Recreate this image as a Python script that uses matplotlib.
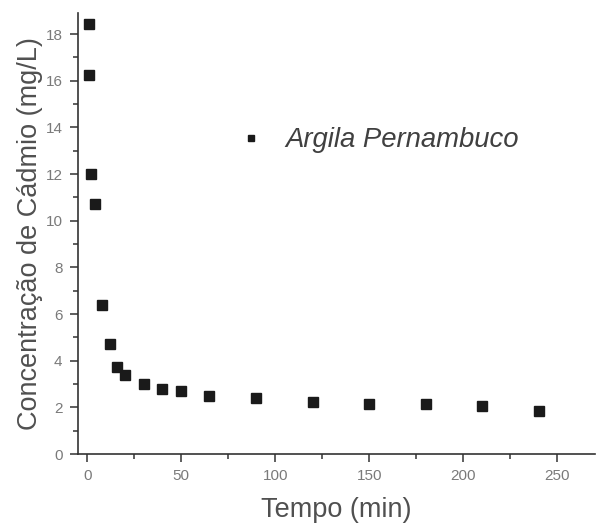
import matplotlib.pyplot as plt
from matplotlib.ticker import MultipleLocator

plt.rcParams['font.family'] = ['Liberation Sans', 'DejaVu Sans']

tempo = [1, 1, 2, 4, 8, 12, 16, 20, 30, 40, 50, 65, 90, 120, 150, 180, 210, 240]
concentracao = [18.45, 16.25, 12.0, 10.7, 6.4, 4.7, 3.75, 3.4, 3.0, 2.8, 2.7, 2.5,
                2.4, 2.25, 2.15, 2.15, 2.05, 1.85]

fig = plt.figure(figsize=(5.98, 5.25), dpi=100)
ax = fig.add_axes([0.130, 0.135, 0.865, 0.840])

ax.plot(tempo, concentracao, 's', color='#1a1a1a', markersize=6.5,
        linestyle='none', label='Argila Pernambuco')

ax.set_xlim(-5, 270)
ax.set_ylim(0, 18.9)
ax.xaxis.set_major_locator(MultipleLocator(50))
ax.xaxis.set_minor_locator(MultipleLocator(25))
ax.yaxis.set_major_locator(MultipleLocator(2))
ax.yaxis.set_minor_locator(MultipleLocator(1))

for s in ['top', 'right']:
    ax.spines[s].set_visible(False)
for s in ['left', 'bottom']:
    ax.spines[s].set_color('#333333')
    ax.spines[s].set_linewidth(1.2)

ax.tick_params(which='major', direction='out', length=6, width=1.1,
               colors='#333333', labelcolor='#7a7a7a', labelsize=11, pad=5)
ax.tick_params(which='minor', direction='out', length=3.5, width=1.1,
               colors='#333333')

ax.set_xlabel('Tempo (min)', fontsize=19.5, color='#505050', labelpad=10)
ax.set_ylabel('Concentração de Cádmio (mg/L)', fontsize=19.5, color='#505050',
              labelpad=2)

leg = ax.legend(loc='center left', bbox_to_anchor=(0.26, 0.712), frameon=False,
                handlelength=1.0, handletextpad=0.75, markerscale=0.75,
                prop={'style': 'italic', 'size': 19.8})
for t in leg.get_texts():
    t.set_color('#404040')

fig.savefig('out.png', dpi=100)
